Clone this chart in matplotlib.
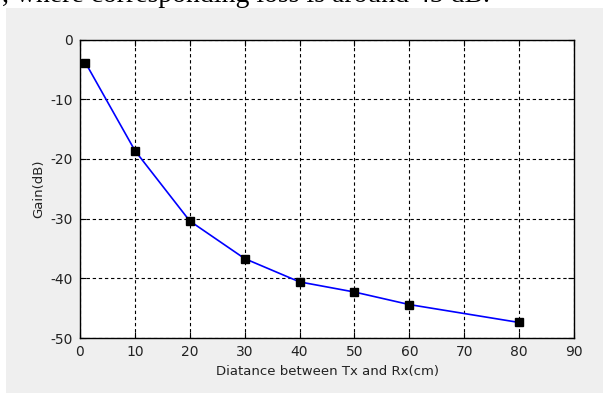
import matplotlib
matplotlib.use("Agg")
import matplotlib.pyplot as plt
from matplotlib.patches import Rectangle

# distance between Tx and Rx (cm) and measured gain (dB)
distance_cm = [1, 10, 20, 30, 40, 50, 60, 80]
gain_db = [-3.9, -18.6, -30.4, -36.7, -40.6, -42.3, -44.4, -47.4]

x_ticks = [0, 10, 20, 30, 40, 50, 60, 70, 80, 90]
y_ticks = [0, -10, -20, -30, -40, -50]

plt.rcParams["axes.unicode_minus"] = False

W, H = 603, 394
fig = plt.figure(figsize=(W / 100, H / 100), dpi=100)
fig.patch.set_facecolor("white")

# grey MATLAB figure window behind the axes
fig.patches.append(Rectangle((6 / W, 1 - 393 / H), 597 / W, 385 / H,
                             transform=fig.transFigure, facecolor="#efefef",
                             edgecolor="none", zorder=-5))

# cut-off line of body text from the page above the figure
fig.text(2 / W, 1 - 2 / H, ", where corresponding loss is around 45 dB.",
         family="Liberation Serif", fontsize=20, va="baseline", ha="left")

ax = fig.add_axes([80 / W, 1 - 338 / H, 494 / W, 298.5 / H])
ax.set_zorder(2)
ax.set_facecolor("white")
ax.plot(distance_cm, gain_db, "-", color="#0000ff", linewidth=1.2,
        marker="s", markersize=5.5, markerfacecolor="black",
        markeredgecolor="black", zorder=3)

ax.set_xlim(0, 90)
ax.set_ylim(-50, 0)
ax.set_xticks(x_ticks)
ax.set_yticks(y_ticks)
ax.grid(True, color="black", linestyle=(0, (3, 2.5)), linewidth=0.8)
ax.tick_params(direction="in", length=4, top=True, right=True,
               labelsize=10, colors="black", labelcolor="#222222", pad=5)
for s in ax.spines.values():
    s.set_linewidth(1.0)
    s.set_color("black")

ax.set_xlabel("Diatance between Tx and Rx(cm)", fontsize=9.5, labelpad=4,
              color="#222222")
ax.set_ylabel("Gain(dB)", fontsize=9.5, labelpad=4, color="#222222")

fig.savefig("out.png", dpi=100)
